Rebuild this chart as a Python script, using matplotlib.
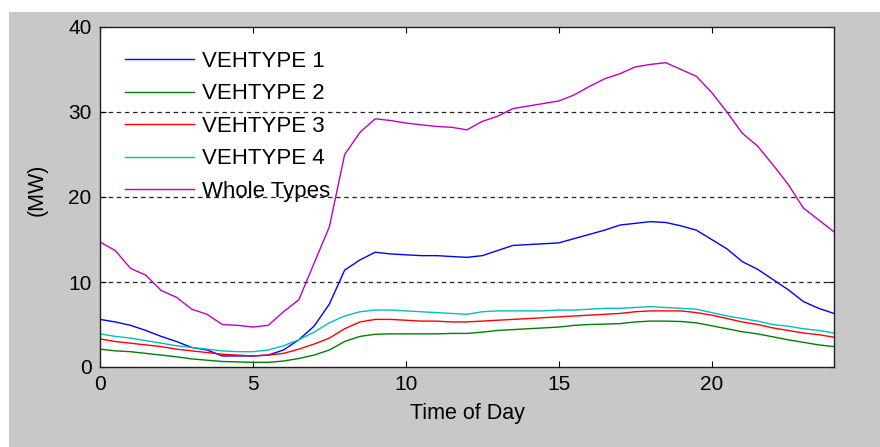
import numpy as np
import matplotlib
matplotlib.use("Agg")
import matplotlib.pyplot as plt
from matplotlib.patches import Rectangle

# ==== DANE (co 0.5 h) ====
TIME = [0, 0.5, 1, 1.5, 2, 2.5, 3, 3.5, 4, 4.5, 5, 5.5, 6, 6.5, 7, 7.5, 8, 8.5,
        9, 9.5, 10, 10.5, 11, 11.5, 12, 12.5, 13, 13.5, 14, 14.5, 15, 15.5, 16,
        16.5, 17, 17.5, 18, 18.5, 19, 19.5, 20, 20.5, 21, 21.5, 22, 22.5, 23,
        23.5, 24]

VEHTYPE_1 = [5.6, 5.3, 4.9, 4.3, 3.6, 3.0, 2.3, 2.0, 1.3, 1.3, 1.3, 1.4, 2.0,
             3.2, 4.8, 7.4, 11.4, 12.6, 13.5, 13.3, 13.2, 13.1, 13.1, 13.0,
             12.9, 13.1, 13.7, 14.3, 14.4, 14.5, 14.6, 15.1, 15.6, 16.1, 16.7,
             16.9, 17.1, 17.0, 16.6, 16.1, 15.0, 13.9, 12.4, 11.5, 10.3, 9.1,
             7.7, 6.9, 6.3]
VEHTYPE_2 = [2.1, 1.9, 1.8, 1.6, 1.4, 1.2, 0.95, 0.8, 0.65, 0.6, 0.55, 0.55,
             0.7, 1.0, 1.4, 2.0, 3.0, 3.6, 3.85, 3.9, 3.9, 3.9, 3.9, 3.95, 3.95,
             4.1, 4.3, 4.4, 4.5, 4.6, 4.7, 4.9, 5.0, 5.05, 5.1, 5.3, 5.4, 5.4,
             5.35, 5.2, 4.85, 4.5, 4.15, 3.9, 3.55, 3.2, 2.9, 2.6, 2.4]
VEHTYPE_3 = [3.3, 3.0, 2.8, 2.6, 2.4, 2.1, 1.9, 1.7, 1.5, 1.4, 1.3, 1.4, 1.6,
             2.1, 2.7, 3.4, 4.5, 5.3, 5.6, 5.6, 5.5, 5.4, 5.4, 5.3, 5.3, 5.4,
             5.5, 5.6, 5.7, 5.8, 5.9, 6.0, 6.1, 6.2, 6.3, 6.5, 6.6, 6.6, 6.6,
             6.4, 6.1, 5.7, 5.3, 5.0, 4.6, 4.3, 4.0, 3.8, 3.5]
VEHTYPE_4 = [3.9, 3.6, 3.4, 3.1, 2.8, 2.5, 2.3, 2.1, 1.9, 1.8, 1.8, 2.0, 2.5,
             3.2, 4.1, 5.2, 6.0, 6.5, 6.7, 6.7, 6.6, 6.5, 6.4, 6.3, 6.2, 6.5,
             6.6, 6.6, 6.6, 6.6, 6.7, 6.7, 6.8, 6.9, 6.9, 7.0, 7.1, 7.0, 6.9,
             6.8, 6.4, 6.0, 5.7, 5.4, 5.0, 4.8, 4.5, 4.3, 4.0]
WHOLE = [14.7, 13.7, 11.6, 10.8, 9.0, 8.2, 6.8, 6.2, 5.0, 4.9, 4.7, 4.9, 6.5,
         7.9, 12.2, 16.5, 25.0, 27.6, 29.2, 29.0, 28.7, 28.5, 28.3, 28.2, 27.9,
         28.9, 29.5, 30.4, 30.7, 31.0, 31.3, 32.0, 33.0, 33.9, 34.5, 35.3, 35.6,
         35.8, 35.0, 34.2, 32.3, 30.0, 27.5, 26.0, 23.8, 21.5, 18.7, 17.3, 15.9]

SERIES = [
    ("VEHTYPE 1", VEHTYPE_1, (0, 0, 1)),
    ("VEHTYPE 2", VEHTYPE_2, (0, 0.5, 0)),
    ("VEHTYPE 3", VEHTYPE_3, (1, 0, 0)),
    ("VEHTYPE 4", VEHTYPE_4, (0, 0.75, 0.75)),
    ("Whole Types", WHOLE, (0.75, 0, 0.75)),
]

plt.rcParams["font.family"] = ["Liberation Sans", "DejaVu Sans"]

W, H = 880, 447
fig = plt.figure(figsize=(W / 100, H / 100), dpi=100, facecolor="white")
# szare tło okna (jak w MATLAB)
fig.patches.append(Rectangle((9 / W, 0), 1, 1 - 12 / H, transform=fig.transFigure,
                             facecolor="#c8c8c8", edgecolor="none", zorder=-1))

ax = fig.add_axes([100 / W, (H - 367) / H, 734 / W, 340 / H])
ax.set_facecolor("white")

for name, vals, col in SERIES:
    ax.plot(TIME, vals, color=col, linewidth=1.0, label=name)

ax.set_xlim(0, 24)
ax.set_ylim(0, 40)
ax.set_xticks([0, 5, 10, 15, 20])
ax.set_yticks([0, 10, 20, 30, 40])

# siatka tylko pozioma, przerywana
for yv in [10, 20, 30]:
    ax.axhline(yv, color="#222222", linewidth=0.9, linestyle=(0, (3.6, 2.9)), zorder=0.5)

ax.tick_params(direction="in", top=True, right=True, length=4.5, width=0.8,
               labelsize=15, colors="black", pad=6)
for sp in ax.spines.values():
    sp.set_linewidth(1.0)
    sp.set_color("#202020")

ax.set_xlabel("Time of Day", fontsize=15.5, labelpad=6)
ax.set_ylabel("(MW)", fontsize=15.5, labelpad=12)
ax.yaxis.set_label_coords(-0.072, 0.52)

ax.legend(loc="upper left", bbox_to_anchor=(0.034, 0.93), frameon=False,
          fontsize=16, handlelength=3.1, handletextpad=0.36, labelspacing=0.52,
          borderpad=0, borderaxespad=0)

fig.savefig("out.png", dpi=100, facecolor=fig.get_facecolor())
